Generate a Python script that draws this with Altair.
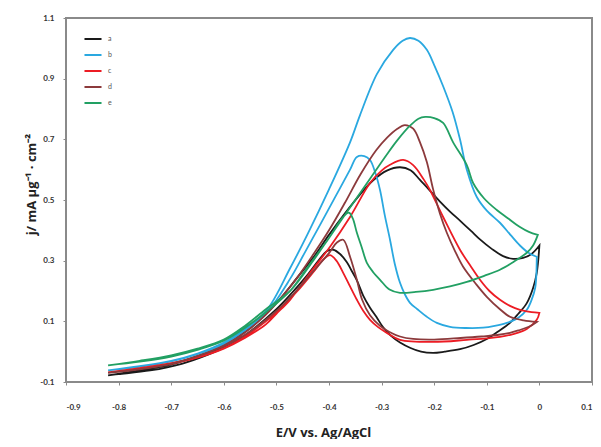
import altair as alt
import pandas as pd

curve_names = ["a", "b", "c", "d", "e"]
curve_colors = ["#1a1a1a", "#2aa8e0", "#ec1c24", "#8c3a3c", "#22a063"]

x_ticks = [-0.9, -0.8, -0.7, -0.6, -0.5, -0.4, -0.3, -0.2, -0.1, 0.0, 0.1]
y_ticks = [-0.1, 0.1, 0.3, 0.5, 0.7, 0.9, 1.1]

# ---- curve a (black) ----
a_fwd_E = [-0.82, -0.76, -0.70, -0.65, -0.60, -0.56, -0.52, -0.49, -0.46, -0.43, -0.40, -0.37, -0.34, -0.316,
           -0.29, -0.265, -0.245, -0.227, -0.205, -0.189, -0.17, -0.151, -0.13, -0.113, -0.09, -0.069, -0.05,
           -0.031, -0.015, 0.0]
a_fwd_j = [-0.078, -0.062, -0.042, -0.015, 0.02, 0.065, 0.125, 0.18, 0.245, 0.31, 0.385, 0.455, 0.52, 0.565,
           0.597, 0.608, 0.598, 0.566, 0.525, 0.495, 0.462, 0.432, 0.398, 0.37, 0.338, 0.315, 0.306, 0.309,
           0.322, 0.35]
a_rev_E = [0.0, -0.005, -0.012, -0.024, -0.04, -0.056, -0.08, -0.10, -0.125, -0.151, -0.18, -0.202, -0.225,
           -0.245, -0.265, -0.282, -0.297, -0.31, -0.322, -0.335, -0.347, -0.358, -0.366, -0.379, -0.392,
           -0.405, -0.42, -0.44, -0.47, -0.50, -0.54, -0.58, -0.63, -0.68, -0.74, -0.80, -0.82]
a_rev_j = [0.35, 0.26, 0.21, 0.16, 0.125, 0.095, 0.065, 0.042, 0.022, 0.008, 0.0, -0.004, 0.0, 0.012, 0.03,
           0.052, 0.08, 0.115, 0.145, 0.185, 0.235, 0.27, 0.295, 0.322, 0.336, 0.33, 0.30, 0.255, 0.195, 0.14,
           0.08, 0.03, -0.01, -0.04, -0.062, -0.074, -0.078]

# ---- curve b (blue) ----
b_fwd_E = [-0.82, -0.76, -0.70, -0.65, -0.60, -0.56, -0.518, -0.474, -0.44, -0.40, -0.36, -0.341, -0.309,
           -0.278, -0.26, -0.246, -0.23, -0.214, -0.2, -0.183, -0.165, -0.151, -0.138, -0.119, -0.1, -0.075,
           -0.055, -0.037, -0.02, -0.005]
b_fwd_j = [-0.062, -0.048, -0.03, -0.006, 0.03, 0.075, 0.138, 0.275, 0.39, 0.535, 0.69, 0.78, 0.915, 0.995,
           1.025, 1.034, 1.025, 0.995, 0.945, 0.875, 0.79, 0.70, 0.60, 0.51, 0.465, 0.425, 0.385, 0.35, 0.325,
           0.313]
b_rev_E = [-0.005, -0.008, -0.015, -0.024, -0.04, -0.062, -0.085, -0.107, -0.14, -0.17, -0.195, -0.214,
           -0.232, -0.246, -0.256, -0.265, -0.275, -0.284, -0.294, -0.303, -0.312, -0.322, -0.333, -0.347,
           -0.36, -0.385, -0.417, -0.445, -0.474, -0.52, -0.56, -0.60, -0.65, -0.70, -0.76, -0.82]
b_rev_j = [0.313, 0.21, 0.17, 0.138, 0.112, 0.095, 0.085, 0.079, 0.078, 0.082, 0.095, 0.115, 0.14, 0.161,
           0.19, 0.227, 0.29, 0.369, 0.45, 0.533, 0.59, 0.632, 0.645, 0.642, 0.60, 0.52, 0.418, 0.33, 0.24,
           0.125, 0.07, 0.025, -0.008, -0.032, -0.05, -0.062]

# ---- curve c (red) ----
c_fwd_E = [-0.82, -0.76, -0.70, -0.65, -0.60, -0.56, -0.52, -0.50, -0.474, -0.436, -0.398, -0.36, -0.322,
           -0.30, -0.284, -0.259, -0.24, -0.22, -0.208, -0.183, -0.151, -0.13, -0.113, -0.095, -0.075, -0.055,
           -0.037, -0.015, 0.0]
c_fwd_j = [-0.068, -0.056, -0.04, -0.02, 0.01, 0.045, 0.09, 0.125, 0.171, 0.26, 0.346, 0.444, 0.556, 0.597,
           0.616, 0.632, 0.615, 0.568, 0.533, 0.444, 0.336, 0.28, 0.237, 0.20, 0.171, 0.15, 0.138, 0.13, 0.128]
c_rev_E = [0.0, -0.005, -0.024, -0.05, -0.075, -0.138, -0.202, -0.265, -0.29, -0.306, -0.322, -0.335, -0.347,
           -0.36, -0.373, -0.386, -0.398, -0.41, -0.43, -0.46, -0.49, -0.52, -0.56, -0.60, -0.65, -0.70,
           -0.76, -0.82]
c_rev_j = [0.128, 0.105, 0.075, 0.058, 0.049, 0.039, 0.032, 0.039, 0.062, 0.08, 0.105, 0.135, 0.171, 0.215,
           0.26, 0.30, 0.318, 0.305, 0.262, 0.20, 0.145, 0.10, 0.05, 0.012, -0.018, -0.038, -0.054, -0.068]

# ---- curve d (brown) ----
d_fwd_E = [-0.82, -0.76, -0.70, -0.65, -0.60, -0.56, -0.52, -0.49, -0.46, -0.43, -0.40, -0.37, -0.34, -0.31,
           -0.29, -0.27, -0.256, -0.24, -0.227, -0.214, -0.202, -0.189, -0.176, -0.16, -0.145, -0.12, -0.10,
           -0.075, -0.056, -0.03, -0.005]
d_fwd_j = [-0.07, -0.058, -0.04, -0.015, 0.02, 0.063, 0.122, 0.18, 0.245, 0.32, 0.40, 0.49, 0.585, 0.665,
           0.705, 0.735, 0.747, 0.735, 0.69, 0.625, 0.535, 0.455, 0.392, 0.33, 0.28, 0.222, 0.181, 0.14,
           0.115, 0.103, 0.098]
d_rev_E = [-0.005, -0.02, -0.04, -0.056, -0.08, -0.11, -0.15, -0.20, -0.24, -0.265, -0.285, -0.303, -0.322,
           -0.337, -0.347, -0.36, -0.373, -0.385, -0.40, -0.43, -0.46, -0.49, -0.52, -0.56, -0.60, -0.65,
           -0.70, -0.76, -0.82]
d_rev_j = [0.098, 0.082, 0.07, 0.062, 0.055, 0.05, 0.045, 0.04, 0.042, 0.05, 0.065, 0.085, 0.12, 0.171, 0.237,
           0.313, 0.369, 0.36, 0.325, 0.265, 0.205, 0.15, 0.105, 0.055, 0.018, -0.014, -0.04, -0.058, -0.07]

# ---- curve e (green) ----
e_fwd_E = [-0.82, -0.76, -0.70, -0.65, -0.60, -0.56, -0.52, -0.474, -0.43, -0.40, -0.36, -0.32, -0.29,
           -0.271, -0.246, -0.23, -0.217, -0.2, -0.183, -0.164, -0.138, -0.126, -0.105, -0.081, -0.06, -0.037,
           -0.02, -0.003]
e_fwd_j = [-0.045, -0.03, -0.012, 0.01, 0.04, 0.085, 0.14, 0.20, 0.30, 0.375, 0.475, 0.575, 0.65, 0.695,
           0.745, 0.768, 0.774, 0.77, 0.754, 0.69, 0.615, 0.556, 0.505, 0.467, 0.44, 0.411, 0.395, 0.385]
e_rev_E = [-0.003, -0.012, -0.024, -0.05, -0.075, -0.105, -0.138, -0.17, -0.202, -0.235, -0.265, -0.285,
           -0.303, -0.316, -0.328, -0.338, -0.347, -0.355, -0.362, -0.375, -0.40, -0.44, -0.474, -0.52, -0.56,
           -0.60, -0.65, -0.70, -0.76, -0.82]
e_rev_j = [0.385, 0.35, 0.326, 0.295, 0.27, 0.25, 0.23, 0.215, 0.204, 0.197, 0.194, 0.205, 0.237, 0.262,
           0.293, 0.345, 0.392, 0.44, 0.458, 0.44, 0.375, 0.28, 0.20, 0.13, 0.078, 0.036, 0.006, -0.016,
           -0.033, -0.045]

series = {
    "a": (a_fwd_E + a_rev_E, a_fwd_j + a_rev_j),
    "b": (b_fwd_E + b_rev_E, b_fwd_j + b_rev_j),
    "c": (c_fwd_E + c_rev_E, c_fwd_j + c_rev_j),
    "d": (d_fwd_E + d_rev_E, d_fwd_j + d_rev_j),
    "e": (e_fwd_E + e_rev_E, e_fwd_j + e_rev_j),
}

rows = []
for name, (Es, js) in series.items():
    for i, (E, j) in enumerate(zip(Es, js)):
        rows.append({"curve": name, "E": E, "j": j, "seq": i})
df = pd.DataFrame(rows)

FONT = "Lato"
TFONT = "Open Sans"

chart = alt.Chart(df).mark_line(strokeWidth=1.8, interpolate="catmull-rom").encode(
    x=alt.X("E:Q",
            scale=alt.Scale(domain=[-0.9, 0.1], nice=False, zero=False),
            axis=alt.Axis(values=x_ticks,
                          labelExpr="replace(datum.value == 0 ? '0' : format(datum.value, '.1f'), '\u2212', '-')",
                          title="E/V vs. Ag/AgCl", titleX=257, titleY=50, titleBaseline="middle",
                          titleAlign="center")),
    y=alt.Y("j:Q",
            scale=alt.Scale(domain=[-0.1, 1.1], nice=False, zero=False),
            axis=alt.Axis(values=y_ticks,
                          labelExpr="replace(format(datum.value, '.1f'), '\u2212', '-')",
                          title="j/ mA µg⁻¹ · cm⁻²", titleX=-35, titleY=166, titleBaseline="middle",
                          titleAlign="center", titleAngle=-90)),
    color=alt.Color("curve:N",
                    scale=alt.Scale(domain=curve_names, range=curve_colors),
                    legend=alt.Legend(title=None, orient="none", legendX=17, legendY=11,
                                      symbolType="stroke", symbolSize=290, symbolStrokeWidth=2,
                                      labelFontSize=7, labelColor="#555555", labelFont=FONT,
                                      rowPadding=2, labelOffset=5, padding=0)),
    order="seq:Q",
).properties(
    width=526, height=364,
    autosize=alt.AutoSizeParams(type="none"),
    padding={"left": 58, "top": 10, "right": 1, "bottom": 57},
).configure_view(
    stroke="#8a8a8a", strokeWidth=2
).configure_axis(
    grid=False, domain=False, tickSize=3, tickColor="#8a8a8a",
    labelFont=FONT, labelFontSize=8, labelFontWeight="bold", labelColor="#333333",
    titleFont=TFONT, titleFontSize=13, titleFontWeight="bold", titleColor="#222222",
).configure_axisX(labelPadding=18).configure_axisY(labelPadding=9)

chart.save("out.html", embed_options={"renderer": "svg", "actions": False})
